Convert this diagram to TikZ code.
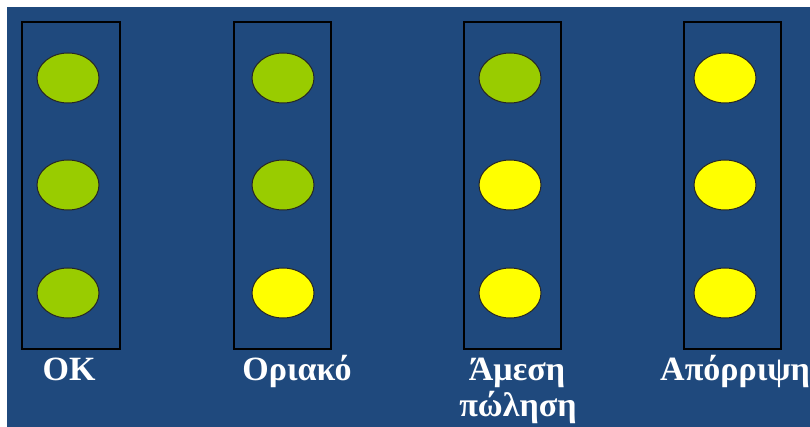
\documentclass[tikz,border=0pt]{standalone}
\usepackage{fontspec}
\setmainfont{Liberation Serif}
\usetikzlibrary{shapes.geometric}
\definecolor{panelblue}{HTML}{1F497D}
\definecolor{lampgreen}{HTML}{99CC00}
\definecolor{lampyellow}{HTML}{FFFF00}
\tikzset{
  column/.style={draw=black, line width=1.3pt, fill=none},
  lamp/.style={ellipse, draw=black!85, line width=1pt, minimum width=62pt, minimum height=50pt, inner sep=0pt},
  green lamp/.style={lamp, fill=lampgreen},
  yellow lamp/.style={lamp, fill=lampyellow},
  caption/.style={text=white, font=\bfseries\fontsize{34}{37}\selectfont, anchor=base, inner sep=0pt}
}
\begin{document}
\begin{tikzpicture}[x=1pt,y=-1pt]
  \useasboundingbox (0,0) rectangle (810,427);
  \fill[white] (0,0) rectangle (810,427);
  \fill[panelblue] (7,7) rectangle (810,427);

  % four signal columns
  \draw[column] (22,22) rectangle (120,349);
  \draw[column] (234,22) rectangle (331,349);
  \draw[column] (464,22) rectangle (561,349);
  \draw[column] (684,22) rectangle (781,349);

  % column 1: all green
  \node[green lamp] (a1) at (68,78) {};
  \node[green lamp] (a2) at (68,185) {};
  \node[green lamp] (a3) at (68,293) {};
  % column 2
  \node[green lamp] (b1) at (283,78) {};
  \node[green lamp] (b2) at (283,185) {};
  \node[yellow lamp] (b3) at (283,293) {};
  % column 3
  \node[green lamp] (c1) at (510,78) {};
  \node[yellow lamp] (c2) at (510,185) {};
  \node[yellow lamp] (c3) at (510,293) {};
  % column 4: all yellow
  \node[yellow lamp] (d1) at (725,78) {};
  \node[yellow lamp] (d2) at (725,185) {};
  \node[yellow lamp] (d3) at (725,293) {};

  % captions
  \node[caption] (la) at (69,380) {OK};
  \node[caption] (lb) at (297,380) {Οριακό};
  \node[caption] (lc1) at (517,380) {Άμεση};
  \node[caption] (lc2) at (518,416) {πώληση};
  \node[caption, anchor=base west] (ld) at (660,380) {Απόρριψη};
\end{tikzpicture}
\end{document}
